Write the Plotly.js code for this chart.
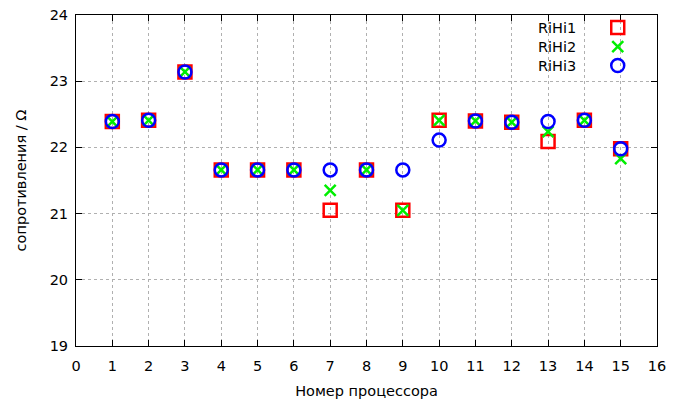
<!DOCTYPE html>
<html><head><meta charset="utf-8">
<script src="https://cdn.plot.ly/plotly-3.0.1.min.js"></script>
<style>body{margin:0;background:#fff}#c{width:682px;height:405px}</style>
</head><body><div id="c"></div>
<script>
const processors = [1,2,3,4,5,6,7,8,9,10,11,12,13,14,15];
const rihi1 = [22.39,22.41,23.14,21.66,21.66,21.66,21.05,21.66,21.05,22.41,22.40,22.38,22.09,22.41,21.98];
const rihi2 = [22.39,22.41,23.14,21.66,21.66,21.66,21.35,21.66,21.05,22.41,22.40,22.38,22.24,22.41,21.83];
const rihi3 = [22.39,22.41,23.14,21.66,21.66,21.66,21.66,21.66,21.66,22.11,22.40,22.38,22.39,22.41,21.98];
const seriesNames = ["RiHi1","RiHi2","RiHi3"];
const xTicks = [0,1,2,3,4,5,6,7,8,9,10,11,12,13,14,15,16];
const yTicks = [19,20,21,22,23,24];

function mkFont(){ return {family:"DejaVu Sans", size:14.5, color:"#000"}; }
const traces = [
  {x:processors, y:rihi1, name:" ", type:"scatter", mode:"markers",
   marker:{symbol:"square-open", size:13, color:"#ff0000", line:{width:2.5, color:"#ff0000"}}},
  {x:processors, y:rihi2, name:" ", type:"scatter", mode:"markers",
   marker:{symbol:"x-thin-open", size:11, color:"#00ee00", line:{width:2.5, color:"#00ee00"}}},
  {x:processors, y:rihi3, name:" ", type:"scatter", mode:"markers",
   marker:{symbol:"circle-open", size:13, color:"#0000ff", line:{width:2.5, color:"#0000ff"}}}
];
function axisCommon(){ return {
  showline:true, linecolor:"#000", linewidth:1, mirror:"allticks",
  ticks:"inside", ticklen:6, tickcolor:"#000", tickwidth:1,
  showgrid:true, gridcolor:"#b0b0b0", griddash:"dot", gridwidth:1,
  zeroline:false, tickfont:mkFont()
};}
const layout = {
  width:682, height:405, paper_bgcolor:"#fff", plot_bgcolor:"#fff",
  margin:{l:76, r:25, t:15, b:59},
  font:mkFont(), showlegend:true,
  xaxis:Object.assign(axisCommon(), {range:[0,16], tickvals:xTicks, ticktext:xTicks.map(String),
    ticklabelstandoff:7,
    title:{text:"Номер процессора", font:mkFont(), standoff:12}}),
  yaxis:Object.assign(axisCommon(), {range:[19,24], tickvals:yTicks, ticktext:yTicks.map(String),
    ticklabelstandoff:4,
    title:{text:"сопротивления / Ω", font:mkFont(), standoff:19}}),
  legend:{x:0.898, y:1.006, xanchor:"left", yanchor:"top", bgcolor:"rgba(0,0,0,0)",
    font:{family:"DejaVu Sans", size:11}, tracegroupgap:0, itemwidth:30},
  annotations: seriesNames.map((n,i)=>({
    xref:"paper", yref:"paper", x:0.864, y:0.961 - i*0.0574, xanchor:"right", yanchor:"middle",
    text:n, showarrow:false, font:mkFont()
  }))
};
Plotly.newPlot("c", traces, layout, {displayModeBar:false, staticPlot:true});
</script></body></html>
